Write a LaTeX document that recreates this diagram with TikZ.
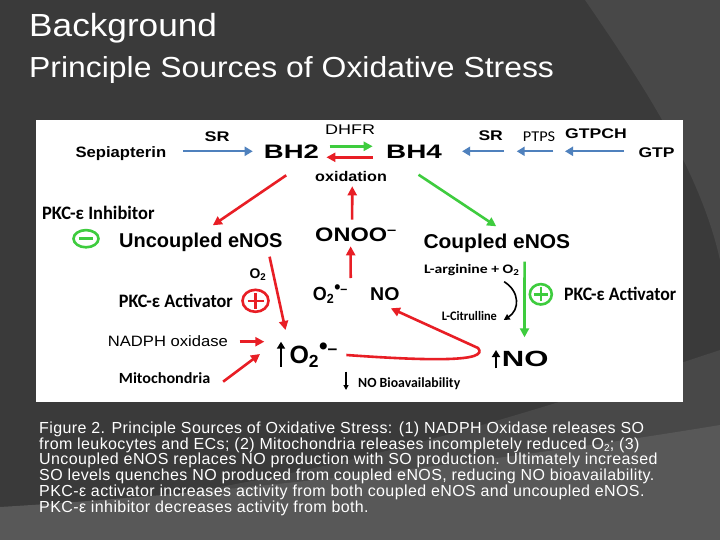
\documentclass[tikz,border=0pt]{standalone}
\usepackage{fontspec}
\usepackage{graphicx}
\setmainfont{Liberation Sans}
\newfontfamily\calib{Carlito}
\newfontfamily\headfont[FakeStretch=1.1]{Liberation Sans}
\newfontfamily\capfont[LetterSpace=2.5]{Liberation Sans}
\usetikzlibrary{arrows.meta}
\definecolor{slidedark}{RGB}{58,58,58}
\definecolor{slidemid}{RGB}{72,72,72}
\definecolor{slidelight}{RGB}{88,88,88}
\definecolor{pathred}{RGB}{232,30,37}
\definecolor{pathgreen}{RGB}{62,204,62}
\definecolor{pathblue}{RGB}{79,129,189}
\newcommand{\fs}[1]{\fontsize{#1}{#1}\selectfont}
\newcommand{\fitw}[2]{\resizebox{#1pt}{\height}{#2}}
\newcommand{\sod}{O\textsubscript{2}\textsuperscript{\scalebox{1.4}{•}–}}

\begin{document}
\begin{tikzpicture}[x=1pt, y=-1pt,
    lbl/.style={inner sep=0pt, anchor=base west, text=black},
    redarr/.style={-{Triangle[length=9pt, width=9pt]}, draw=pathred, line width=2.6pt},
    grnarr/.style={-{Triangle[length=9pt, width=9pt]}, draw=pathgreen, line width=2.6pt},
    bluarr/.style={-{Triangle[length=8pt, width=9pt]}, draw=pathblue, line width=2.2pt},
    blkarr/.style={-{Triangle[length=7pt, width=8pt]}, draw=black, line width=2.6pt},
    sign/.style={line width=2.6pt}]
  \useasboundingbox (0,0) rectangle (720,540);
  % slide background
  \fill[slidedark] (0,0) rectangle (720,540);
  \fill[slidemid] (585,0) .. controls (640,80) and (700,170) .. (720,260) -- (720,0) -- cycle;
  \fill[slidemid] (0,512) .. controls (250,500) and (480,430) .. (720,350) -- (720,540) -- (0,540) -- cycle;
  \fill[slidelight] (0,507) .. controls (250,492) and (520,458) .. (720,425) -- (720,540) -- (0,540) -- cycle;
  \fill[white] (36,120) rectangle (683,401.7);

  % titles
  \node[lbl, text=white, font=\headfont\fs{32}] (title) at (29,37) {Background};
  \node[lbl, text=white, font=\headfont\fs{29}] (subtitle) at (29,78) {Principle Sources of Oxidative Stress};

  % pterin pathway
  \node[lbl, font=\bfseries\fs{15}] (sepia) at (75.3,158) {\fitw{90.7}{Sepiapterin}};
  \node[lbl, font=\bfseries\fs{14}] (sr1) at (204.3,142) {\fitw{25}{SR}};
  \node[lbl, font=\bfseries\fs{19.5}] (bh2) at (263.7,159) {\fitw{55}{BH2}};
  \node[lbl, font=\fs{14}] (dhfr) at (325,134.7) {\fitw{50}{DHFR}};
  \node[lbl, font=\bfseries\fs{19.5}] (bh4) at (386,159) {\fitw{55.7}{BH4}};
  \node[lbl, font=\bfseries\fs{14}] (oxid) at (315,181.3) {\fitw{71.7}{oxidation}};
  \node[lbl, font=\bfseries\fs{14}] (sr2) at (478.3,140.7) {\fitw{24.4}{SR}};
  \node[lbl, font=\calib\fs{15}] (ptps) at (522.7,142) {\fitw{32.3}{PTPS}};
  \node[lbl, font=\bfseries\fs{14}] (gtpch) at (565,138.7) {\fitw{61.7}{GTPCH}};
  \node[lbl, font=\bfseries\fs{14}] (gtp) at (638.3,157.3) {\fitw{36}{GTP}};

  % eNOS and products
  \node[lbl, font=\calib\bfseries\fs{19}] (inhib) at (42,219.7) {\fitw{112.3}{PKC-ε Inhibitor}};
  \node[lbl, font=\bfseries\fs{20}] (uncoup) at (119,247.3) {\fitw{163.3}{Uncoupled eNOS}};
  \node[lbl, font=\bfseries\fs{19.5}] (onoo) at (315,242) {\fitw{81.7}{ONOO\textsuperscript{–}}};
  \node[lbl, font=\bfseries\fs{20}] (coup) at (423.3,248) {\fitw{146.7}{Coupled eNOS}};
  \node[lbl, font=\calib\bfseries\fs{13}] (larg) at (424,273.3) {\fitw{95.3}{L-arginine + O\textsubscript{2}}};
  \node[lbl, font=\calib\bfseries\fs{13}] (citr) at (441.7,320.7) {\fitw{55}{L-Citrulline}};
  \node[lbl, font=\calib\bfseries\fs{19}] (actR) at (564,300) {\fitw{112}{PKC-ε Activator}};
  \node[lbl, font=\bfseries\fs{14}] (o2a) at (249.3,278.3) {\fitw{16.7}{O\textsubscript{2}}};
  \node[lbl, font=\calib\bfseries\fs{19}] (actL) at (118.7,307.3) {\fitw{114}{PKC-ε Activator}};
  \node[lbl, font=\bfseries\fs{19}] (o2mid) at (312.7,300) {\fitw{35}{\sod}};
  \node[lbl, font=\bfseries\fs{18.5}] (nomid) at (370,300) {\fitw{29.3}{NO}};
  \node[lbl, font=\fs{15}] (nadph) at (107.7,346.7) {\fitw{120}{NADPH oxidase}};
  \node[lbl, font=\calib\bfseries\fs{15.5}] (mito) at (118.7,383.3) {\fitw{91.3}{Mitochondria}};
  \node[lbl, font=\bfseries\fs{25}] (o2up) at (289.3,363.3) {\fitw{48.4}{\sod}};
  \node[lbl, font=\bfseries\fs{22}] (noup) at (501.7,366.7) {\fitw{46.6}{NO}};
  \node[lbl, font=\calib\bfseries\fs{14}] (nobio) at (358,387.3) {\fitw{102}{NO Bioavailability}};

  % blue synthesis arrows
  \coordinate (j1) at (510,151.3);
  \coordinate (j2) at (559.5,151.3);
  \draw[bluarr, shorten <=16.7pt, shorten >=11pt] ([yshift=6.7pt]sepia.base east) -- ([yshift=7.7pt]bh2.base west);
  \draw[bluarr, shorten <=6pt, shorten >=20pt] (j1) -- (bh4.east |- j1);
  \draw[bluarr, shorten <=6.2pt, shorten >=6.7pt] (j2) -- (j1);
  \draw[bluarr, shorten <=14.3pt, shorten >=5.5pt] (gtp.west |- j2) -- (j2);

  % BH2 / BH4 exchange
  \draw[grnarr, shorten <=10.6pt, shorten >=13.3pt] ([yshift=12.7pt]bh2.base east) -- ([yshift=12.7pt]bh4.base west);
  \draw[redarr, shorten <=13.3pt, shorten >=7.3pt] ([yshift=1.7pt]bh4.base west) -- ([yshift=1.7pt]bh2.base east);
  \draw[redarr] ([shift={(-5.2pt,-16.3pt)}]bh2.base) -- ([shift={(12pt,22pt)}]uncoup.base);
  \draw[grnarr] ([shift={(4.5pt,-15.7pt)}]bh4.base) -- ([shift={(-0.6pt,21.7pt)}]coup.base);
  \draw[redarr] ([shift={(-3.9pt,22.3pt)}]onoo.base) -- ([shift={(1.2pt,-5pt)}]oxid.base);
  \draw[redarr] ([shift={(20.3pt,22pt)}]o2mid.base) -- ([shift={(-5.4pt,-4.3pt)}]onoo.base);

  % superoxide sources
  \draw[redarr] ([shift={(68.7pt,-9.4pt)}]uncoup.base) -- ([shift={(-28.2pt,33.3pt)}]o2up.base);
  \draw[redarr] ([shift={(11.6pt,5pt)}]nadph.base east) -- ([shift={(-25pt,21.6pt)}]o2up.base west);
  \draw[redarr] ([shift={(12.7pt,1.6pt)}]mito.base east) -- ([shift={(-29.3pt,9.3pt)}]o2up.base west);
  \draw[grnarr] ([shift={(27.7pt,-13.7pt)}]coup.base) -- ([shift={(-0.7pt,29.4pt)}]noup.base);
  \draw[-{Triangle[length=6pt, width=6pt]}, line width=1.6pt]
    ([shift={(32.3pt,-8.4pt)}]larg.base) .. controls +(16pt,-10pt) and +(16pt,10pt) .. ([shift={(6.6pt,0.7pt)}]citr.base east);
  \coordinate (turn) at (478,348);
  \draw[redarr]
    ([shift={(8.3pt,8.3pt)}]o2up.base east) .. controls (430,361) and (490,362) .. (turn)
    -- ([shift={(6pt,-8.3pt)}]nomid.base);

  % up and down marks
  \draw[blkarr] ([shift={(-8.3pt,-3.4pt)}]o2up.base west) -- ++(0pt,25pt);
  \draw[blkarr] ([shift={(-5.7pt,-1.6pt)}]noup.base west) -- ++(0pt,18.3pt);
  \draw[-{Triangle[length=5pt, width=5pt]}, line width=1.2pt] ([shift={(-12pt,15.6pt)}]nobio.base west) -- ++(0pt,-18.3pt);

  % PKC signs
  \coordinate (minus) at (86,238.7);
  \draw[sign, pathgreen] (minus) ellipse [x radius=12.5pt, y radius=8.6pt];
  \draw[sign, pathgreen] ([xshift=-7pt]minus) -- ([xshift=7pt]minus);
  \coordinate (plusR) at (540.8,294.3);
  \draw[sign, pathgreen] (plusR) ellipse [x radius=11pt, y radius=10.2pt];
  \draw[sign, pathgreen] ([xshift=-7pt]plusR) -- ([xshift=7pt]plusR) ([yshift=-7pt]plusR) -- ([yshift=7pt]plusR);
  \coordinate (plusL) at (255.5,300.8);
  \draw[sign, pathred] (plusL) ellipse [x radius=13pt, y radius=11pt];
  \draw[sign, pathred] ([xshift=-8pt]plusL) -- ([xshift=8pt]plusL) ([yshift=-8pt]plusL) -- ([yshift=8pt]plusL);

  % caption (base is the last line)
  \node[lbl, text=white, align=left, font=\capfont\fontsize{16}{15.8}\selectfont] (caption) at (39,512.3)
    {Figure 2. Principle Sources of Oxidative Stress: (1) NADPH Oxidase releases SO\\
     from leukocytes and ECs; (2) Mitochondria releases incompletely reduced O\raisebox{-0.12em}{\fontsize{10}{10}\selectfont 2}; (3)\\
     Uncoupled eNOS replaces NO production with SO production. Ultimately increased\\
     SO levels quenches NO produced from coupled eNOS, reducing NO bioavailability.\\
     PKC-ε activator increases activity from both coupled eNOS and uncoupled eNOS.\\
     PKC-ε inhibitor decreases activity from both.};
\end{tikzpicture}
\end{document}
